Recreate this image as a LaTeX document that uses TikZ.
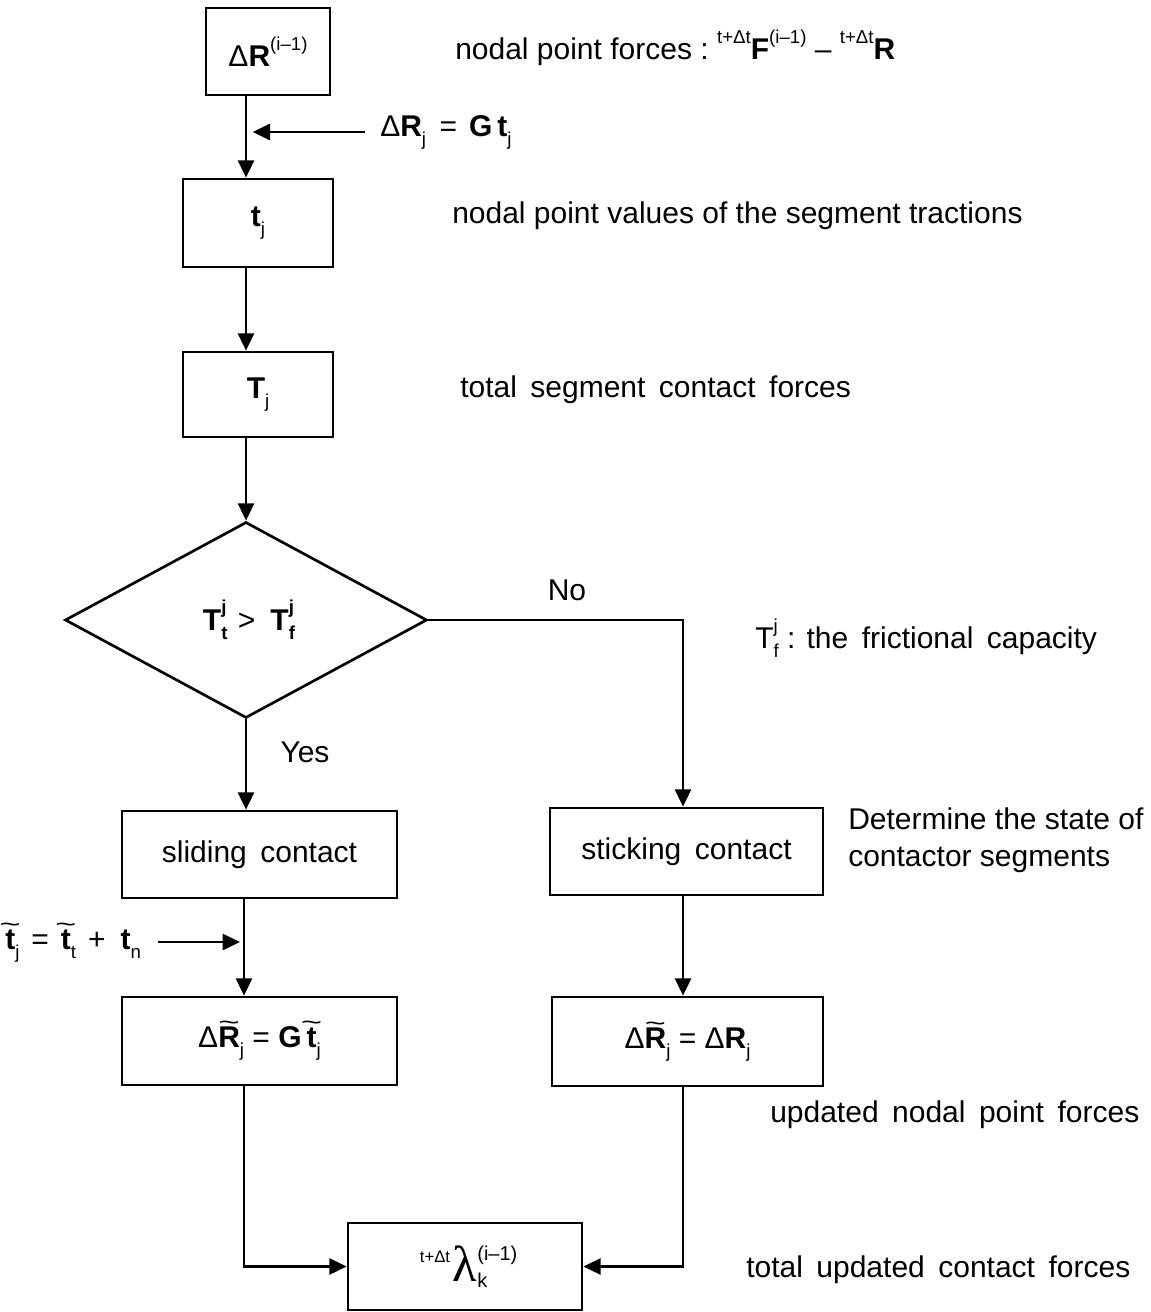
\documentclass[tikz,border=0pt]{standalone}
\usepackage{fontspec}
\usepackage{graphicx}
\setmainfont{Liberation Sans}
\newfontfamily\serifl{Liberation Serif}
\usetikzlibrary{shapes.geometric,arrows.meta}
\newcommand\dn[1]{\raisebox{-0.3em}{\fontsize{14}{14}\selectfont #1}}
\newcommand\up[1]{\raisebox{0.55em}{\fontsize{14}{14}\selectfont #1}}
\newcommand\ud[2]{\makebox[0pt][l]{\up{#1}}\dn{#2}}
\newcommand\wsp{\hspace{0.45em}}
\newcommand\tl[1]{\leavevmode\setbox0\hbox{#1}\rlap{\hbox to\wd0{\hss\raisebox{13pt}{\fontsize{18}{18}\selectfont\scalebox{1.5}[1]{\textasciitilde}}\hss}}\box0}
\begin{document}
\begin{tikzpicture}[x=0.75pt,y=-0.75pt,
  every node/.style={font=\fontsize{22.5}{28}\selectfont},
  box/.style={draw,line width=2pt,inner sep=0pt},
  lbl/.style={anchor=west,inner sep=0pt},
  arr/.style={-{Triangle[length=13pt,width=12pt]},line width=2pt}]
\useasboundingbox (0,0) rectangle (1151,1312);
\coordinate (ax) at (246,0);
\coordinate (axL) at (244,0);
\coordinate (axR) at (683,0);
\coordinate (a1) at (365,132);
\coordinate (a2) at (158,942);
% boxes
\node[box,minimum width=93pt,minimum height=65.25pt] (b1) at (268,51.5) {Δ\textbf{R}\up{(i–1)}};
\node[box,minimum width=112.5pt,minimum height=66pt] (b2) at (258,223) {\textbf{t}\dn{j}};
\node[box,minimum width=112.5pt,minimum height=63.75pt] (b3) at (258,394.5) {\textbf{T}\dn{j}};
\node[draw,line width=2pt,diamond,inner sep=0pt,aspect=1.85,minimum width=271.5pt,minimum height=147pt] (dia) at (246,620) {\hspace{0.2em}\textbf{T}\ud{\textbf{j}}{\textbf{t}}\hspace{0.35em}>\hspace{0.5em}\textbf{T}\ud{\textbf{j}}{\textbf{f}}};
\node[box,minimum width=206.25pt,minimum height=65.25pt] (slide) at (259.5,854.5) {sliding\wsp contact};
\node[box,minimum width=204.75pt,minimum height=65.25pt] (stick) at (686.5,851.5) {sticking\wsp contact};
\node[box,minimum width=206.25pt,minimum height=66pt] (bL) at (259.5,1041) {Δ\tl{\textbf{R}}\dn{j} = \textbf{G}\,\tl{\textbf{t}}\dn{j}};
\node[box,minimum width=203.25pt,minimum height=66.75pt] (bR) at (687.5,1041.5) {Δ\tl{\textbf{R}}\dn{j} = Δ\textbf{R}\dn{j}};
\node[box,minimum width=175.5pt,minimum height=65.25pt] (lam) at (465,1266.5) {\raisebox{0.62em}{\fontsize{12.5}{12.5}\selectfont t+Δt}\kern2pt{\serifl\fontsize{38}{38}\selectfont λ}\makebox[0pt][l]{\raisebox{0.68em}{\fontsize{15}{15}\selectfont (i–1)}}\raisebox{-0.2em}{\fontsize{15}{15}\selectfont k}\kern17pt};
% labels
\node[lbl] (l1) at (455,48) {nodal point forces :\ \up{t+Δt}\textbf{F}\up{(i–1)} – \up{t+Δt}\textbf{R}};
\node[lbl] (eq1) at (380,132) {Δ\textbf{R}\dn{j}\hspace{0.45em}=\hspace{0.4em}\textbf{G}\,\textbf{t}\dn{j}};
\node[lbl] (l2) at (452,216) {nodal point values of the segment tractions};
\node[lbl] (l3) at (460,390) {total\wsp segment\wsp contact\wsp forces};
\node[inner sep=0pt] (no) at (567,590) {No};
\node[lbl] (l4) at (755,638) {T\ud{j}{f} : the\wsp frictional\wsp capacity};
\node[inner sep=0pt] (yes) at (305,752) {Yes};
\node[lbl,align=left] (l5) at (848,840) {Determine the state of\\contactor segments};
\node[lbl] (eq2) at (5,943) {\tl{\textbf{t}}\dn{j}\hspace{0.4em}=\hspace{0.4em}\tl{\textbf{t}}\dn{t}\hspace{0.4em}+\hspace{0.5em}\textbf{t}\dn{n}};
\node[lbl] (l6) at (770,1115) {updated\wsp nodal\wsp point\wsp forces};
\node[lbl] (l7) at (746,1270) {total\wsp updated\wsp contact\wsp forces};
% connectors
\draw[arr] (b1.south -| ax) -- (b2.north -| ax);
\draw[arr,shorten >=5pt] (a1) -- (ax |- a1);
\draw[arr] (b2.south -| ax) -- (b3.north -| ax);
\draw[arr] (b3.south -| dia.north) -- (dia.north);
\draw[arr] (dia.east) -| (stick.north -| axR);
\draw[arr] (dia.south) -- (slide.north -| dia.south);
\draw[arr] (slide.south -| axL) -- (bL.north -| axL);
\draw[arr,shorten >=3pt] (a2) -- (axL |- a2);
\draw[arr] (stick.south -| axR) -- (bR.north -| axR);
\draw[arr] (bL.south -| axL) |- (lam.west);
\draw[arr] (bR.south -| axR) |- (lam.east);
\end{tikzpicture}
\end{document}
